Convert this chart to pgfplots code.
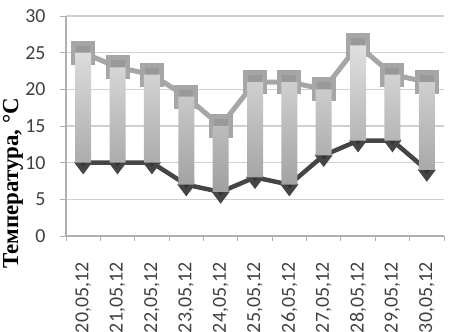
\documentclass[border=0pt]{standalone}
\usepackage{pgfplots}
\pgfplotsset{compat=1.18}
\usepackage{pgfplotstable}
\usepackage{fontspec}
\setmainfont{Liberation Serif}
\newfontfamily\carlito{Carlito}
\definecolor{gridc}{HTML}{D0D0D0}
\definecolor{axc}{HTML}{B0B0B0}
\definecolor{upc}{HTML}{A6A6A6}
\definecolor{upm}{HTML}{999999}
\definecolor{loc}{HTML}{454545}
\definecolor{lom}{HTML}{333333}
\definecolor{txtc}{HTML}{404040}
\pgfplotstableread{
x high low
1 25 10
2 23 10
3 22 10
4 19 7
5 15 6
6 21 8
7 21 7
8 20 11
9 26 13
10 22 13
11 21 9
}\temps
\begin{document}
\begin{tikzpicture}
\useasboundingbox (0,0) rectangle (450bp,332bp);
\begin{axis}[
  at={(66bp,96bp)}, anchor=south west,
  width=378bp, height=220bp, scale only axis,
  xmin=0.5, xmax=11.5, ymin=0, ymax=30,
  ytick={0,5,...,30},
  xtick={1,...,11},
  xticklabels={{20,05,12},{21,05,12},{22,05,12},{23,05,12},{24,05,12},{25,05,12},{26,05,12},{27,05,12},{28,05,12},{29,05,12},{30,05,12}},
  minor xtick={0.5,1.5,...,11.5},
  major x tick style={draw=none},
  tick align=outside,
  major tick length=6bp, minor tick length=5bp,
  tick style={axc, line width=1bp},
  axis x line*=bottom, axis y line*=left,
  axis line style={axc, line width=1.2bp, -},
  ymajorgrids, grid style={gridc, line width=1.2bp},
  /pgf/number format/assume math mode=true,
  ticklabel style={font=\carlito\fontsize{20}{22}\selectfont, text=txtc},
  yticklabel style={xshift=-11bp},
  xticklabel style={yshift=-17bp, rotate=90, anchor=east},
  ylabel={\bfseries Температура, °С},
  ylabel style={font=\fontsize{23}{25}\selectfont, at={(axis description cs:-0.14,0.239)}, anchor=center},
  clip=false,
]
\addplot[upc, line width=5bp, mark=square*, mark size=9.5bp, mark options={fill=upm, draw=none}] table[x=x, y=high] {\temps};
\addplot[loc, line width=4.5bp, mark=diamond*, mark size=8bp, mark options={fill=lom, draw=none}] table[x=x, y=low] {\temps};
\end{axis}
\begin{axis}[
  at={(66bp,96bp)}, anchor=south west,
  width=378bp, height=220bp, scale only axis,
  xmin=0.5, xmax=11.5, ymin=0, ymax=30,
  hide axis, ybar stacked, bar width=16bp,
]
\addplot[draw=none, fill=none] table[x=x, y=low] {\temps};
\addplot[draw=none, top color=gray!25, bottom color=gray!75] table[x=x, y expr=\thisrow{high}-\thisrow{low}] {\temps};
\end{axis}
\end{tikzpicture}
\end{document}
